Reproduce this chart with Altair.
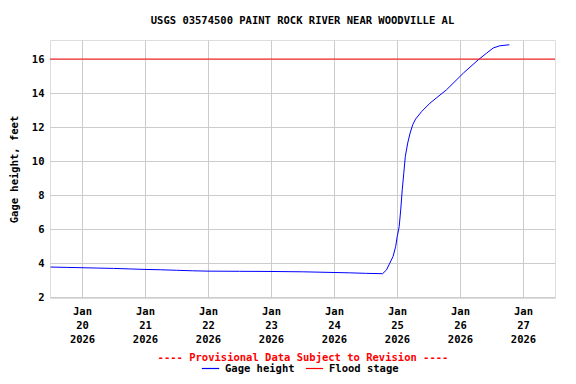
import altair as alt
import pandas as pd

times = [
    "2026-01-19T12:00", "2026-01-19T18:00", "2026-01-20T00:00", "2026-01-20T06:00",
    "2026-01-20T12:00", "2026-01-20T18:00", "2026-01-21T00:00", "2026-01-21T06:00",
    "2026-01-21T12:00", "2026-01-21T18:00", "2026-01-22T00:00", "2026-01-22T12:00",
    "2026-01-23T00:00", "2026-01-23T12:00", "2026-01-24T00:00", "2026-01-24T06:00",
    "2026-01-24T12:00", "2026-01-24T18:30", "2026-01-24T20:00", "2026-01-24T21:15",
    "2026-01-24T22:30", "2026-01-24T23:30", "2026-01-25T00:05", "2026-01-25T00:50",
    "2026-01-25T01:25", "2026-01-25T02:00", "2026-01-25T02:35", "2026-01-25T03:10",
    "2026-01-25T04:05", "2026-01-25T05:00", "2026-01-25T06:00", "2026-01-25T07:05",
    "2026-01-25T09:25", "2026-01-25T12:35", "2026-01-25T18:55", "2026-01-26T01:20",
    "2026-01-26T07:00", "2026-01-26T10:10", "2026-01-26T12:40", "2026-01-26T15:10",
    "2026-01-26T18:50",
]
heights = [
    3.77, 3.75, 3.73, 3.71,
    3.69, 3.66, 3.63, 3.61,
    3.58, 3.55, 3.53, 3.52,
    3.51, 3.49, 3.45, 3.43,
    3.40, 3.38, 3.60, 4.00,
    4.39, 4.98, 5.56, 6.15,
    7.13, 8.31, 9.29, 10.27,
    11.06, 11.65, 12.14, 12.47,
    12.92, 13.41, 14.20, 15.18,
    15.96, 16.35, 16.65, 16.78,
    16.84,
]
flood_stage = 16
y_ticks = [2, 4, 6, 8, 10, 12, 14, 16]
tick_days = [20, 21, 22, 23, 24, 25, 26, 27]
series_names = ["Gage height", "Flood stage"]
series_colors = ["#0000ff", "#ff0000"]

FONT = "DejaVu Sans Mono"
FS = 10.5

df = pd.DataFrame({"time": times, "height": heights})

color_scale = alt.Scale(domain=series_names, range=series_colors)

x_enc = alt.X(
    "time:T",
    scale=alt.Scale(domain=[alt.DateTime(year=2026, month=1, date=19, hours=11, minutes=48),
                            alt.DateTime(year=2026, month=1, date=27, hours=12, minutes=12)]),
    axis=alt.Axis(
        values=[alt.DateTime(year=2026, month=1, date=d) for d in tick_days],
        labelExpr="[timeFormat(datum.value, '%b'), timeFormat(datum.value, '%d'), timeFormat(datum.value, '%Y')]",
        title="---- Provisional Data Subject to Revision ----",
        titleColor="#ff0000",
        titleFont=FONT, titleFontSize=FS, titleFontWeight="bold",
        titlePadding=8,
        labelFont=FONT, labelFontSize=FS, labelFontWeight="bold", labelColor="black",
        labelLineHeight=14, labelPadding=8, labelOverlap=False,
        tickSize=0, domain=False,
        gridColor="#cccccc", gridWidth=1,
        labelBaseline="top",
    ),
)

y_enc = alt.Y(
    "height:Q",
    scale=alt.Scale(domain=[1.95, 17.12], nice=False, zero=False),
    axis=alt.Axis(
        values=y_ticks,
        tickCount=8,
        title="Gage height, feet",
        titleFont=FONT, titleFontSize=FS, titleFontWeight="bold",
        titleColor="black", titlePadding=12,
        labelFont=FONT, labelFontSize=FS, labelFontWeight="bold", labelColor="black",
        labelPadding=6, tickSize=0, domain=False, labelOverlap=False,
        gridColor="#cccccc", gridWidth=1,
    ),
)

line = alt.Chart(df).mark_line(strokeWidth=1, interpolate="linear").encode(
    x=x_enc,
    y=y_enc,
    color=alt.Color(
        "series:N",
        scale=color_scale,
        legend=alt.Legend(
            orient="none", legendX=151, legendY=319,
            direction="horizontal", title=None,
            symbolType="stroke", symbolSize=300, symbolStrokeWidth=1.2,
            labelFont=FONT, labelFontSize=FS, labelFontWeight="bold", labelColor="black",
            columnPadding=8, labelOffset=5,
        ),
    ),
).transform_calculate(series="'Gage height'")

rule = alt.Chart(pd.DataFrame({"height": [flood_stage], "series": ["Flood stage"]})).mark_rule(
    strokeWidth=1
).encode(
    y=y_enc,
    color=alt.Color("series:N", scale=color_scale),
)

chart = alt.layer(line, rule).properties(
    width=505,
    height=258,
    title=alt.TitleParams(
        "USGS 03574500 PAINT ROCK RIVER NEAR WOODVILLE AL",
        font=FONT, fontSize=FS, fontWeight="bold", color="black",
        anchor="middle", offset=14,
    ),
    autosize=alt.AutoSizeParams(type="none"),
    padding={"left": 42, "top": 32, "right": 5, "bottom": 78},
).configure_view(
    stroke="black", strokeWidth=1
).configure(background="white")

chart.save("out.html", embed_options={"renderer": "svg", "actions": False})
